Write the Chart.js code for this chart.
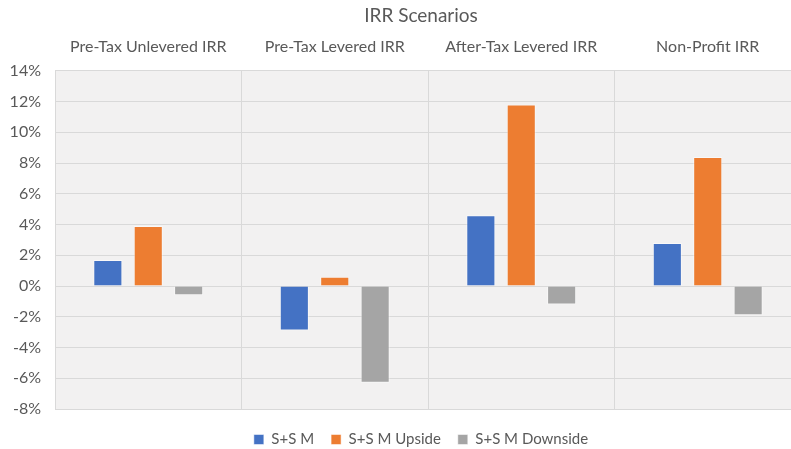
<!DOCTYPE html>
<html>
<head>
<meta charset="utf-8">
<script src="https://cdn.jsdelivr.net/npm/chart.js@4/dist/chart.umd.min.js"></script>
<style>
  html, body { margin: 0; padding: 0; overflow: hidden; background: #fff; }
  #wrap { width: 842px; height: 457px; }
</style>
</head>
<body>
<div id="wrap"><canvas id="irrChart" width="842" height="457"></canvas></div>
<script>
'use strict';

const categories = ['Pre-Tax Unlevered IRR', 'Pre-Tax Levered IRR', 'After-Tax Levered IRR', 'Non-Profit IRR'];
const seriesNames = ['S+S M', 'S+S M Upside', 'S+S M Downside'];
const baseValues = [1.7, -2.9, 4.6, 2.8];
const upsideValues = [3.9, 0.6, 11.8, 8.4];
const downsideValues = [-0.6, -6.3, -1.2, -1.9];
const yMin = -8;
const yMax = 14;
const yStep = 2;

const colors = ['#4472C4', '#ED7D31', '#A5A5A5'];
const textColor = '#595959';
const fontFamily = 'Lato, "Open Sans", sans-serif';

// grey plot area like the excel chart
const plotBackground = {
  id: 'plotBackground',
  beforeDraw(chart) {
    const a = chart.chartArea;
    const ctx = chart.ctx;
    ctx.save();
    ctx.fillStyle = '#f2f1f1';
    ctx.fillRect(a.left, a.top, a.right - a.left, a.bottom - a.top);
    ctx.restore();
  }
};

function makeSet(i, values) {
  return {
    label: seriesNames[i],
    data: values,
    xAxisID: 'x',
    yAxisID: 'y',
    backgroundColor: colors[i],
    borderColor: 'rgba(255,255,255,0.5)',
    borderWidth: 1,
    barPercentage: 0.72,
    categoryPercentage: 0.65
  };
}

// empty axes used only to reserve space
function spacer(pos, size) {
  return {
    type: 'linear',
    position: pos,
    display: true,
    min: 0,
    max: 1,
    grid: { display: false },
    border: { display: false },
    ticks: { display: false },
    afterFit: function(s) {
      if (pos === 'right') s.width = size; else s.height = size;
    }
  };
}

const config = {
  type: 'bar',
  data: {
    labels: categories,
    datasets: [
      makeSet(0, baseValues),
      makeSet(1, upsideValues),
      makeSet(2, downsideValues)
    ]
  },
  options: {
    responsive: false,
    animation: false,
    plugins: {
      title: {
        display: true,
        text: 'IRR Scenarios',
        color: textColor,
        font: { family: fontFamily, size: 19, weight: 'normal' },
        padding: { top: 4, bottom: 3 }
      },
      legend: {
        position: 'bottom',
        labels: {
          boxWidth: 10,
          boxHeight: 10,
          padding: 17,
          color: textColor,
          font: { family: fontFamily, size: 15 }
        }
      },
      tooltip: { enabled: false }
    },
    scales: {
      x: {
        position: 'top',
        grid: { offset: true, color: '#d9d9d9', drawTicks: false },
        border: { display: false },
        ticks: {
          color: textColor,
          padding: 14,
          font: { family: fontFamily, size: 16 }
        },
        afterFit: function(s) { s.height = 41; }
      },
      y: {
        min: yMin,
        max: yMax,
        grid: { color: '#d9d9d9', drawTicks: false },
        border: { display: false },
        ticks: {
          stepSize: yStep,
          color: textColor,
          padding: 14,
          font: { family: fontFamily, size: 16 },
          callback: function(v) { return v + '%'; }
        },
        afterFit: function(s) { s.width = 55; }
      },
      padBottom: spacer('bottom', 6),
      padRight: spacer('right', 41)
    }
  },
  plugins: [plotBackground]
};

const irrChart = new Chart(document.getElementById('irrChart'), config);
</script>
</body>
</html>
